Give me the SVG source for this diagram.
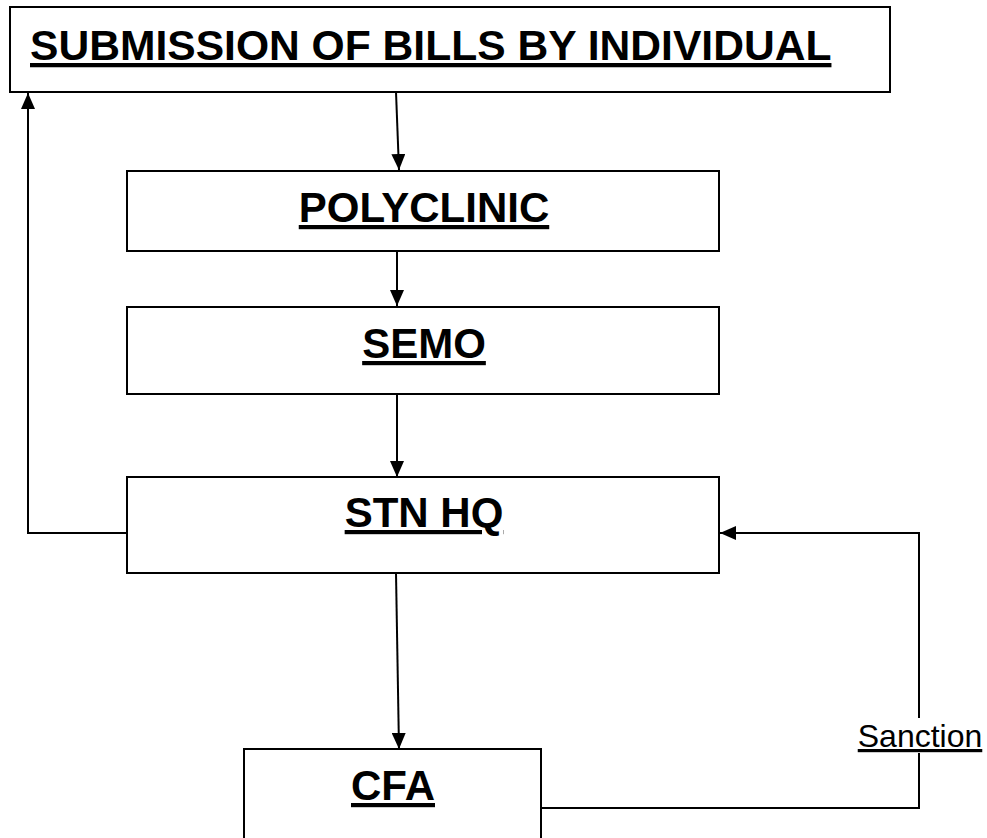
<svg xmlns="http://www.w3.org/2000/svg" width="987" height="838" viewBox="0 0 987 838">
<style>
.box{fill:#fff;stroke:#000;stroke-width:2}
.lbl{font-family:"Liberation Sans",Arial,sans-serif;font-weight:bold;font-size:42px;text-decoration:underline;fill:#000}
.sm{font-family:"Liberation Sans",Arial,sans-serif;font-size:32px;text-decoration:underline;fill:#000}
.ln{fill:none;stroke:#000;stroke-width:2}
</style>
<defs>
<marker id="ah" viewBox="0 0 16 14" refX="16" refY="7" markerWidth="16" markerHeight="14" markerUnits="userSpaceOnUse" orient="auto">
<path d="M0,0 L16,7 L0,14 Z" fill="#000"/>
</marker>
</defs>
<g id="connectors">
<line class="ln" x1="396" y1="92" x2="399" y2="170" marker-end="url(#ah)"/>
<line class="ln" x1="397" y1="251" x2="397" y2="306" marker-end="url(#ah)"/>
<line class="ln" x1="397" y1="394" x2="397" y2="477" marker-end="url(#ah)"/>
<line class="ln" x1="396" y1="573" x2="399" y2="749" marker-end="url(#ah)"/>
<polyline class="ln" points="127,533 28,533 28,93" marker-end="url(#ah)"/>
<polyline class="ln" points="541,808 919,808 919,753"/>
<polyline class="ln" points="919,718 919,533 720,533" marker-end="url(#ah)"/>
</g>
<g id="submission">
<rect class="box" x="10" y="7" width="880" height="85"/>
<text class="lbl" x="30" y="60" style="font-size:42.6px">SUBMISSION OF BILLS BY INDIVIDUAL</text>
</g>
<g id="polyclinic">
<rect class="box" x="127" y="171" width="592" height="80"/>
<text class="lbl" x="424" y="222" text-anchor="middle">POLYCLINIC</text>
</g>
<g id="semo">
<rect class="box" x="127" y="307" width="592" height="87"/>
<text class="lbl" x="424" y="358" text-anchor="middle">SEMO</text>
</g>
<g id="stnhq">
<rect class="box" x="127" y="477" width="592" height="96"/>
<text class="lbl" x="424" y="527" text-anchor="middle">STN HQ</text>
</g>
<g id="cfa">
<rect class="box" x="244" y="749" width="297" height="100"/>
<text class="lbl" x="393" y="800" text-anchor="middle">CFA</text>
</g>
<g id="sanction-label">
<text class="sm" x="920" y="747" text-anchor="middle">Sanction</text>
</g>
</svg>
